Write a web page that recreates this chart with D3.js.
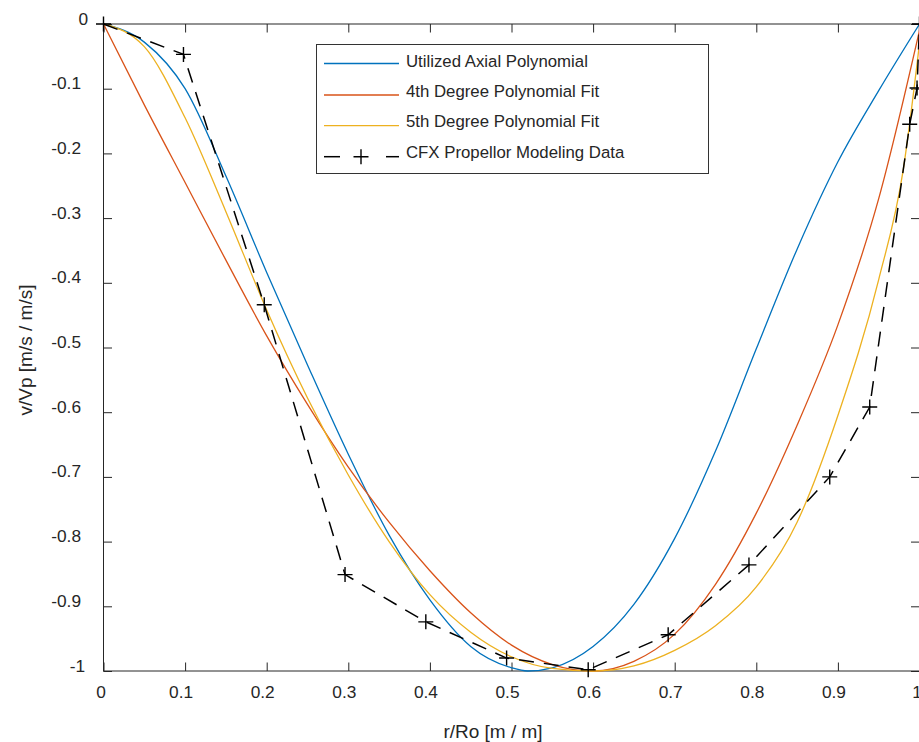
<!DOCTYPE html>
<html><head><meta charset="utf-8">
<script src="https://cdn.jsdelivr.net/npm/d3@7"></script>
<style>
body{margin:0;background:#fff}
svg{display:block}
text{font-family:"Liberation Sans",Arial,Helvetica,sans-serif;fill:#262626}
</style>
</head><body>
<svg id="chart" width="919" height="742"></svg>
<script>
// ---- data ----
const xTicks = [0,0.1,0.2,0.3,0.4,0.5,0.6,0.7,0.8,0.9,1];
const xTickLabels = ["0","0.1","0.2","0.3","0.4","0.5","0.6","0.7","0.8","0.9","1"];
const yTicks = [0,-0.1,-0.2,-0.3,-0.4,-0.5,-0.6,-0.7,-0.8,-0.9,-1];
const yTickLabels = ["0","-0.1","-0.2","-0.3","-0.4","-0.5","-0.6","-0.7","-0.8","-0.9","-1"];

const seriesNames = ["Utilized Axial Polynomial","4th Degree Polynomial Fit","5th Degree Polynomial Fit","CFX Propellor Modeling Data"];

const axialX = [0,0.05,0.1,0.15,0.2,0.25,0.3,0.35,0.4,0.45,0.5,0.52,0.55,0.6,0.65,0.7,0.75,0.8,0.85,0.9,0.95,1];
const axialY = [0,-0.028,-0.1,-0.235,-0.384,-0.527,-0.665,-0.79,-0.89,-0.962,-0.995,-1.0,-0.995,-0.962,-0.897,-0.795,-0.66,-0.502,-0.348,-0.213,-0.103,0];

const fit4X = [0,0.05,0.1,0.15,0.2,0.25,0.3,0.35,0.4,0.45,0.5,0.55,0.6,0.65,0.7,0.75,0.8,0.85,0.9,0.95,1];
const fit4Y = [0,-0.125,-0.245,-0.365,-0.482,-0.588,-0.685,-0.77,-0.845,-0.91,-0.96,-0.99,-1.0,-0.985,-0.943,-0.866,-0.756,-0.62,-0.465,-0.27,-0.01];

const fit5X = [0,0.05,0.1,0.15,0.2,0.25,0.3,0.35,0.4,0.45,0.5,0.55,0.6,0.65,0.7,0.75,0.8,0.85,0.9,0.95,0.98,1];
const fit5Y = [0,-0.035,-0.145,-0.29,-0.442,-0.578,-0.697,-0.8,-0.882,-0.94,-0.978,-0.996,-1.0,-0.992,-0.968,-0.93,-0.87,-0.77,-0.605,-0.395,-0.226,-0.03];

const cfxX = [0,0.098,0.197,0.296,0.395,0.494,0.594,0.692,0.791,0.890,0.939,0.988,0.997,1];
const cfxY = [0,-0.047,-0.434,-0.851,-0.924,-0.980,-0.998,-0.944,-0.836,-0.700,-0.592,-0.155,-0.099,0];

const colors = ["#0072BD","#D95319","#EDB120","#000000"];

// ---- layout ----
const svg = d3.select("#chart");
const pLeft = 103.5, pRight = 919.5, pTop = 24, pBottom = 671;
const xS = d3.scaleLinear().domain([0,1]).range([pLeft,pRight]);
const yS = d3.scaleLinear().domain([-1,0]).range([pBottom,pTop]);
const axisColor = "#262626";
const tickFont = 17.3;

function styleAxis(g){
  g.select(".domain").remove();
  g.selectAll(".tick line").attr("stroke",axisColor).attr("stroke-width",1);
  g.selectAll("text").attr("font-size",tickFont).attr("fill",axisColor);
}

// box
svg.append("rect").attr("x",pLeft).attr("y",pTop).attr("width",pRight-pLeft).attr("height",pBottom-pTop)
  .attr("fill","none").attr("stroke",axisColor).attr("stroke-width",1);

const gx = svg.append("g").attr("transform",`translate(0,${pBottom})`)
  .call(d3.axisBottom(xS).tickValues(xTicks).tickFormat((d,i)=>xTickLabels[i]).tickSizeInner(-8.5).tickSizeOuter(0).tickPadding(14.5));
styleAxis(gx);
gx.selectAll("text").attr("dx",function(){ return this.textContent.length===1 ? -3 : -4.5; });

const gxt = svg.append("g").attr("transform",`translate(0,${pTop})`)
  .call(d3.axisTop(xS).tickValues(xTicks).tickFormat("").tickSizeInner(-8.5).tickSizeOuter(0));
styleAxis(gxt);

const gy = svg.append("g").attr("transform",`translate(${pLeft},0)`)
  .call(d3.axisLeft(yS).tickValues(yTicks).tickFormat((d,i)=>yTickLabels[i]).tickSizeInner(-8.5).tickSizeOuter(0).tickPadding(22.5));
styleAxis(gy);
gy.selectAll("text").attr("dy","0em")
  .attr("dx",function(){ const n=this.textContent.length; return n===1 ? 7 : (n===2 ? 4 : 0); });

const gyr = svg.append("g").attr("transform",`translate(${pRight},0)`)
  .call(d3.axisRight(yS).tickValues(yTicks).tickFormat("").tickSizeInner(-8.5).tickSizeOuter(0));
styleAxis(gyr);

// axis labels
svg.append("text").attr("x",493).attr("y",738).attr("text-anchor","middle").attr("font-size",19).text("r/Ro [m / m]");
svg.append("text").attr("transform","translate(32,350) rotate(-90)").attr("text-anchor","middle").attr("font-size",19).text("v/Vp [m/s / m/s]");

// curves
const lineGen = d3.line().x(d=>xS(d[0])).y(d=>yS(d[1])).curve(d3.curveMonotoneX);
const curves = [
  d3.zip(axialX, axialY),
  d3.zip(fit4X, fit4Y),
  d3.zip(fit5X, fit5Y)
];
curves.forEach((pts,i)=>{
  svg.append("path").attr("d",lineGen(pts)).attr("fill","none").attr("stroke",colors[i]).attr("stroke-width",1.3);
});

const cfx = d3.zip(cfxX, cfxY);
const straight = d3.line().x(d=>xS(d[0])).y(d=>yS(d[1]));
svg.append("path").attr("d",straight(cfx)).attr("fill","none").attr("stroke","#000")
  .attr("stroke-width",1.5).attr("stroke-dasharray","15,10");
const plus = "M-7.5,0H7.5M0,-7.5V7.5";
svg.selectAll(".mk").data(cfx).enter().append("path").attr("class","mk")
  .attr("transform",d=>`translate(${xS(d[0])},${yS(d[1])})`).attr("d",plus)
  .attr("stroke","#000").attr("stroke-width",1.4).attr("fill","none");

// legend
const lg = svg.append("g");
lg.append("rect").attr("x",316.5).attr("y",44.5).attr("width",392).attr("height",129)
  .attr("fill","#fff").attr("stroke","#333").attr("stroke-width",1);
const rowY = [63.5,95,125.7,156.7];
const baseY = [66.5,96.5,127,158];
seriesNames.forEach((n,i)=>{
  if(i<3){
    lg.append("line").attr("x1",324).attr("x2",399).attr("y1",rowY[i]).attr("y2",rowY[i]).attr("stroke",colors[i]).attr("stroke-width",1.3);
  } else {
    lg.append("line").attr("x1",324).attr("x2",340).attr("y1",rowY[i]).attr("y2",rowY[i]).attr("stroke","#000").attr("stroke-width",1.5);
    lg.append("line").attr("x1",386).attr("x2",399).attr("y1",rowY[i]).attr("y2",rowY[i]).attr("stroke","#000").attr("stroke-width",1.5);
    lg.append("path").attr("transform",`translate(361,${rowY[i]})`).attr("d",plus).attr("stroke","#000").attr("stroke-width",1.4);
  }
  lg.append("text").attr("x",406).attr("y",baseY[i]).attr("font-size",16.8).attr("fill","#000").text(n);
});
</script>
</body></html>
